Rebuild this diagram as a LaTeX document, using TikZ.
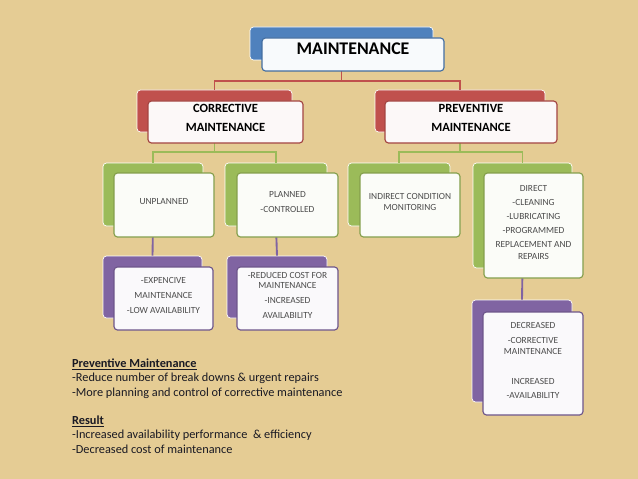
\documentclass[tikz,border=0pt]{standalone}
\usepackage{fontspec}
\setmainfont{Carlito}
\usepackage{xcolor}
\usepackage{tikz}
\usetikzlibrary{fit, positioning}

\definecolor{paper}{RGB}{229,204,148}
\definecolor{mblue}{RGB}{79,129,189}
\definecolor{mred}{RGB}{192,80,77}
\definecolor{mgreen}{RGB}{155,187,89}
\definecolor{mpurple}{RGB}{128,100,162}
\definecolor{boxtext}{RGB}{75,75,75}
\definecolor{notetext}{RGB}{25,25,35}

\tikzset{
	backbox/.style={draw=white, line width=0.6pt, fill=#1, rounded corners=3pt, inner sep=0pt},
	frontbox/.style={draw=#1!85!black, line width=1pt, fill=#1!4!white, rounded corners=3pt, inner sep=0pt, align=center},
	wire/.style={draw=#1, line width=1.6pt},
	smalltext/.style={text=boxtext, font=\fontsize{8}{12}\selectfont},
	titletext/.style={text=black, font=\bfseries\fontsize{10.7}{16.2}\selectfont},
	notes/.style={text=notetext, anchor=west, align=left, font=\fontsize{10.5}{12.3}\selectfont},
}

\begin{document}
\begin{tikzpicture}[x=0.03cm, y=-0.03cm]
				% Paths, nodes and wires:
				\fill[paper] (0,0) rectangle (638,479);
				\useasboundingbox (0,0) rectangle (638,479);
				\node[backbox=mblue, fit={(250,27) (433,60)}](mainB){};
				\node[backbox=mred, fit={(137,90) (292,132)}](corrB){};
				\node[backbox=mred, fit={(375,90) (545,132)}](prevB){};
				\node[backbox=mgreen, fit={(103,163) (203,226)}](unplB){};
				\node[backbox=mgreen, fit={(225,163) (327,226)}](planB){};
				\node[backbox=mgreen, fit={(348,163) (450,226)}](indB){};
				\node[backbox=mgreen, fit={(473,163) (572,268)}](dirB){};
				\node[backbox=mpurple, fit={(103,256) (202,318)}](expB){};
				\node[backbox=mpurple, fit={(227,256) (327,318)}](redB){};
				\node[backbox=mpurple, fit={(472,300) (572,402)}](decB){};
				\draw[wire=mred] (mainB.south) -- ++(0,21) coordinate (mainJ);
				\draw[wire=mred] (corrB.north) |- (mainJ) -| (prevB.north);
				\draw[wire=mgreen] (corrB.south) -- ++(0,20) coordinate (corrJ);
				\draw[wire=mgreen] (unplB.north) |- (corrJ) -| (planB.north);
				\draw[wire=mgreen] (prevB.south) -- ++(0,20) coordinate (prevJ);
				\draw[wire=mgreen] (indB.north) |- (prevJ) -| (dirB.north);
				\draw[wire=mpurple] (unplB.south) -- (expB.north);
				\draw[wire=mpurple] (planB.south) -- (redB.north);
				\draw[wire=mpurple] (dirB.south) -- (decB.north);
				\node[frontbox=mblue, fit={(262,38) (444,71)}, text=black, font=\bfseries\fontsize{15.2}{16}\selectfont](main){MAINTENANCE};
				\node[frontbox=mred, fit={(148,101) (303,143)}, titletext](corr){CORRECTIVE\\MAINTENANCE};
				\node[frontbox=mred, fit={(385,101) (557,143)}, titletext](prev){PREVENTIVE\\MAINTENANCE};
				\node[frontbox=mgreen, fit={(114,173) (214,237)}, smalltext](unpl){UNPLANNED};
				\node[frontbox=mgreen, fit={(237,173) (338,237)}, smalltext, font=\fontsize{8}{13.6}\selectfont](plan){PLANNED\\-CONTROLLED};
				\node[frontbox=mgreen, fit={(360,173) (460,237)}, smalltext, font=\fontsize{8}{9.6}\selectfont](ind){INDIRECT CONDITION\\MONITORING};
				\node[frontbox=mgreen, fit={(484,173) (583,278)}, smalltext](dir){DIRECT\\-CLEANING\\-LUBRICATING\\-PROGRAMMED\\REPLACEMENT AND\\[-1.7pt]REPAIRS};
				\node[frontbox=mpurple, fit={(114,267) (213,330)}, smalltext, font=\fontsize{8}{12.8}\selectfont](exp){-EXPENCIVE\\MAINTENANCE\\-LOW AVAILABILITY};
				\node[frontbox=mpurple, fit={(237,267) (338,330)}, smalltext, font=\fontsize{8}{8.8}\selectfont](red){-REDUCED COST FOR\\MAINTENANCE\\[4pt]-INCREASED\\[4pt]AVAILABILITY};
				\node[frontbox=mpurple, fit={(483,312) (583,415)}, smalltext, font=\fontsize{8}{12.8}\selectfont](dec){DECREASED\\-CORRECTIVE\\[-3.4pt]MAINTENANCE\\[12.8pt]INCREASED\\[-0.8pt]-AVAILABILITY};
				\node[notes](pmNote) at (68,378.5){\textbf{\underline{Preventive Maintenance}}\\-Reduce number of break downs \& urgent repairs\\-More planning and control of corrective maintenance};
				\node[notes](resNote) at (68,434.5){\textbf{\underline{Result}}\\-Increased availability performance \ \& efficiency\\-Decreased cost of maintenance};
			\end{tikzpicture}
\end{document}
